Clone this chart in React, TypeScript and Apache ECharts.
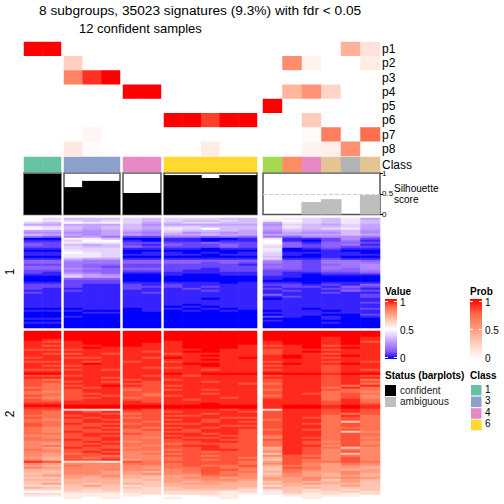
import React, { useEffect, useRef } from "react";
import * as echarts from "echarts";

const FONT = "Liberation Sans";
const groupSizes = [2, 3, 2, 5, 6];
const groupLefts = [24, 64, 123, 164, 263];
const groupRights = [61, 120, 161, 257, 380];
const probRows = ["p1", "p2", "p3", "p4", "p5", "p6", "p7", "p8"];

const p1 = [1, 1, 0, 0, 0, 0, 0, 0, 0, 0, 0, 0, 0, 0, 0, 0, 0.4, 0.15];
const p2 = [0, 0, 0.25, 0, 0, 0, 0, 0, 0, 0, 0, 0, 0, 0.58, 0.07, 0, 0, 0.1];
const p3 = [0, 0, 0.62, 0.88, 1, 0, 0, 0, 0, 0, 0, 0, 0, 0, 0, 0, 0, 0];
const p4 = [0, 0, 0, 0, 0, 1, 1, 0, 0, 0, 0, 0, 0, 0.38, 0.55, 0.22, 0, 0];
const p5 = [0, 0, 0, 0, 0, 0, 0, 0, 0, 0, 0, 0, 1, 0, 0, 0, 0, 0];
const p6 = [0, 0, 0, 0, 0, 0, 0, 1, 1, 0.85, 1, 1, 0, 0, 0.27, 0, 0, 0];
const p7 = [0, 0, 0, 0.05, 0, 0, 0, 0, 0, 0, 0, 0, 0, 0, 0.02, 0.65, 0, 0.72];
const p8 = [0, 0, 0.12, 0.02, 0, 0, 0, 0, 0, 0.1, 0, 0, 0, 0, 0.06, 0.08, 0.57, 0];
const probValues = [p1, p2, p3, p4, p5, p6, p7, p8];

const classIds = [1, 1, 3, 3, 3, 4, 4, 6, 6, 6, 6, 6, 2, 5, 4, 7, 8, 7];
const silhouette = [0.98, 0.98, 0.66, 0.81, 0.81, 0.52, 0.52, 0.95, 0.95, 0.88, 0.95, 0.95, 0, 0, 0.3, 0.37, 0, 0.47];
const confident = [1, 1, 1, 1, 1, 1, 1, 1, 1, 1, 1, 1, 0, 0, 0, 0, 0, 0];

const classColors: Record<number, string> = {
  1: "#66C2A5", 2: "#A6D854", 3: "#8DA0CB", 4: "#E78AC3",
  5: "#FC8D62", 6: "#FFD92F", 7: "#E5C494", 8: "#B3B3B3",
};
const legendClasses = [[1, "1"], [3, "3"], [4, "4"], [6, "6"]] as [number, string][];

// One row per line, one character per sample. Scale: 0..9,a..k = 0, 0.05, ... 1.
const cluster1 = [
  "a8 777 87 88877 a98796", "a9 878 87 87787 ba8797", "87 a9b 86 78877 698797", "66 666 75 66666 587686",
  "98 767 76 88777 697786", "a9 767 76 98a77 687896", "66 656 65 87776 576675", "55 556 54 75656 465575",
  "76 656 65 66766 666676", "43 564 22 44343 435554", "00 b97 00 11001 911252", "11 8aa 10 11011 a10241",
  "22 999 22 22322 a31332", "32 767 21 32232 932341", "22 877 32 22232 832322", "11 888 11 11011 901211",
  "00 988 00 00000 900100", "11 a98 01 10101 811110", "11 998 11 11011 810111", "00 998 00 00000 700100",
  "11 766 11 11111 811211", "33 544 33 33333 532443", "33 444 33 33232 432444", "22 433 22 22221 332345",
  "33 432 22 22222 432445", "33 543 33 22122 332435", "22 433 22 21122 222334", "21 543 11 11111 211223",
  "11 765 00 10011 210111", "00 866 00 00000 110000", "00 333 00 00000 100000", "00 222 00 00000 000000",
  "11 222 11 11101 110111", "22 211 21 21111 221213", "22 211 22 21211 122132", "21 111 21 12111 211221",
  "11 211 11 11211 121132", "21 111 12 11111 111211", "11 111 11 11111 311112", "11 111 11 11111 121112",
  "11 111 11 11011 011111", "11 111 11 11111 111111", "11 111 11 11111 111112", "11 111 11 10111 111111",
  "11 111 11 01011 111111", "00 011 01 10101 110112", "11 100 01 01010 011011", "00 011 00 00000 111111",
  "00 000 00 00000 011002", "00 100 00 00000 210101", "11 000 00 00000 000100", "00 000 00 00000 100000",
  "11 000 00 00000 000100", "00 000 00 00000 000000", "00 000 00 00000 000000",
];
const cluster2 = [
  "kk kkk kk kkkkk kkkkkk", "kk kkk kk kkkkk kkkkkk", "kk kkk kk kkkkk kkkkkk", "kk kkk kk kkkkk kkkjkj",
  "kj kkk kk kkkkk kkkjkj", "ji jkk kk jkkkk jkkjki", "jj jkk kj jkkkk jkkjkj", "ji jjk kj jkkkj ijkijj",
  "jj jkj jj jkkkj jjkjkj", "ii ijj jj jjkjj ijjijj", "jj jjj ji jkkjj ijkjjj", "ji iji jj ijjjj ijjijj",
  "jj jjj jj jjkjj jkjjkj", "ij iij ji kjjjk jkjijj", "jj jjj jj jjkjj jjjjjj", "ii jij ij ijjjj ijjiji",
  "jj jkj jj jkkjj jkjjkj", "ji ijj jj jjkjj ijjijj", "jj jjj ji ijjjj jjjijj", "ii iji jj jjijj ijjiji",
  "jj jjj jj jjjjj jjjijj", "kk jjj jj kjkkk kkkjkk", "ii ijj ji jijjj ijjiji", "jj jji jj jjjjj jjjijj",
  "ih jjj ij ijjjj ijjijh", "ii iji ji jjijj ijjiji", "ih jjj ii jjjji hjjijh", "ih ijk ji ijjjj ijjihj",
  "hh jij ii jjjjj ijjhjh", "ih ijj hi ijijj hjjihh", "hg ijj ii jjjjj ijjhhg", "hh iij ih jjijj ijihih",
  "ih iji ih ijjjj hjjhig", "hg iij hi jjjij ijjhig", "ih ijj ii jijjj jjjhjh", "ii jjj ji jjjjj jjjijh",
  "jj jjj jj jjkjj jjjiji", "kk kkk kk kkkkk jkkjkj", "jj kkk kk kkkkk jkkjkj", "ii ccb ji jjjij cjjiji",
  "ih jij ii ijjji ijjiji", "ih jji hi jjijj ijjihi", "hh ijj ii iijjj ijjhjh", "ih jij hi jjjii ijihih",
  "hg iji ii ijijj hjjhih", "hh ijj ih jjiji ijjhdh", "ih jii hi iijjj ijihih", "ih iij ii jjjii ijjhih",
  "hg iji ih ijijj ijjhhh", "hg iij hi jijji hjihih", "hg jii hh iijji ijjhdg", "hh ijj ih jjiji ijjhih",
  "gg iji hh ijjii hjjhih", "hg iij hg jiiji gjihig", "hh jij hh ijjii ijjhih", "gg iji gh iijji hjigig",
  "gf iij hh hiiii hjihig", "gh iji hg ijjii hjjgih", "gf jii gh iijii ejihdg", "hg iij hh hijji fjighg",
  "gg iji gg iihii gjigig", "gf hij gh hiiii djigdg", "gf iih gg iihii gihghg", "fe ihi gg hiiih eiigig",
  "ge iij fg hihii dihgig", "ji ccb ih iiiih fihhih", "gf ggg hh hiiih gigfhg", "fe hgg gg hihhi ehgfgf",
  "gf ggg gf hhihh dihffe", "ee ggg gg ghiig dhgfef", "ed ggf fe ghihh ehffgf", "de ggf fg ggihg dgfege",
  "ef ffg ee ffhhg egfefe", "dd fef ed fggfg ffgfgf", "ee eee de ffggf ffgdfe", "dd eee dd feffe dfeefd",
  "df ede ed effee eefeed", "cc dfd cd eeeee ceddfd", "ed ddd dc deeed ededdd", "cc dcd cc ddddc cdcdcd",
  "aa ccc cc cccbc 9dccdc", "cc bbb bc cccbb bcbcbc", "9b bbb ba aabba abbbba", "aa bab aa baaba aabaaa",
];

const SCALE = "0123456789abcdefghijk";
const decode = (rows: string[]) =>
  rows.map((r) => r.replace(/\s/g, "").split("").map((c) => SCALE.indexOf(c) / 20));

const valueColors = ["#0000FF", "#8658FF", "#B38BFF", "#DEC7FF", "#FFFFFF", "#FFCFBF", "#FF9E81", "#FF6847", "#FF0000"];
const probColors = ["#FFFFFF", "#FFCFBF", "#FF9E81", "#FF6847", "#FF0000"];

function buildOption() {
  const grids: any[] = [], xAxes: any[] = [], yAxes: any[] = [], series: any[] = [];
  const valueIdx: number[] = [], probIdx: number[] = [], classIdx: number[] = [];
  const h1 = decode(cluster1);
  const h2 = decode(cluster2);

  const addGrid = (g: number, top: number, height: number, yAxis: any, extra: any = {}) => {
    const idx = grids.length;
    grids.push({ left: groupLefts[g], width: groupRights[g] - groupLefts[g], top, height, ...extra });
    const cols = Array.from({ length: groupSizes[g] }, (_, i) => `s${g}_${i}`);
    xAxes.push({ type: "category", gridIndex: idx, data: cols, show: false });
    yAxes.push({ gridIndex: idx, ...yAxis });
    return idx;
  };

  const heat = (idx: number, data: any[], list: number[]) => {
    list.push(series.length);
    series.push({ type: "heatmap", xAxisIndex: idx, yAxisIndex: idx, data, progressive: 0, silent: true });
  };

  const catAxis = (data: string[], show = false, padding = [0, 0, 0, 0]) => ({
    type: "category", data, inverse: true, show,
    position: "right",
    axisLine: { show: false }, axisTick: { show: false },
    axisLabel: { fontFamily: FONT, fontSize: 12, color: "#000", margin: 2, interval: 0, padding },
  });

  let offset = 0;
  groupSizes.forEach((n, g) => {
    const cols = Array.from({ length: n }, (_, i) => offset + i);
    const last = g === groupSizes.length - 1;

    // probability annotation
    let idx = addGrid(g, 42, 114, catAxis(probRows, last, [2, 0, 0, 0]));
    const pd: any[] = [];
    probValues.forEach((row, r) => cols.forEach((c, i) => pd.push([i, r, row[c]])));
    heat(idx, pd, probIdx);

    // class annotation
    idx = addGrid(g, 157, 15, catAxis(["Class"], last, [0, 0, 3, 0]));
    heat(idx, cols.map((c, i) => [i, 0, classIds[c]]), classIdx);

    // silhouette bars
    idx = addGrid(g, 173, 41.5, {
      type: "value", min: 0, max: 1, interval: 0.5, show: last, position: "right",
      splitLine: { show: false }, axisLine: { show: false },
      axisTick: { show: true, length: 3, lineStyle: { color: "#000" } },
      axisLabel: { fontFamily: FONT, fontSize: 8, color: "#000", margin: 2 },
    }, { show: true, borderColor: "#555", borderWidth: 1.5, backgroundColor: "#fff" });
    series.push({
      type: "bar", xAxisIndex: idx, yAxisIndex: idx, barWidth: "106%", silent: true,
      data: cols.map((c) => ({
        value: silhouette[c],
        itemStyle: { color: confident[c] ? "#000" : "#BEBEBE" },
      })),
      ...(last ? {
        markLine: {
          silent: true, symbol: "none", label: { show: false },
          lineStyle: { type: "dashed", color: "#CCCCCC", width: 1 },
          data: [{ yAxis: 0.5 }],
        },
      } : {}),
    });

    // heatmap 1
    idx = addGrid(g, 218, 110, catAxis(h1.map((_, i) => `a${i}`)));
    const d1: any[] = [];
    h1.forEach((row, r) => cols.forEach((c, i) => d1.push([i, r, row[c]])));
    heat(idx, d1, valueIdx);

    // heatmap 2
    idx = addGrid(g, 331, 168, catAxis(h2.map((_, i) => `b${i}`)));
    const d2: any[] = [];
    h2.forEach((row, r) => cols.forEach((c, i) => d2.push([i, r, row[c]])));
    heat(idx, d2, valueIdx);

    offset += n;
  });

  const txt = (text: string, x: number, y: number, opts: any = {}) => ({
    type: "text", x, y,
    style: { text, fontFamily: FONT, fontSize: 10, fill: "#000", verticalAlign: "middle", ...opts },
  });
  const rect = (x: number, y: number, w: number, h: number, fill: any) => ({
    type: "rect", shape: { x, y, width: w, height: h }, style: { fill },
  });
  const tick = (x1: number, x2: number, y: number) => ({
    type: "line", shape: { x1, y1: y, x2, y2: y }, style: { stroke: "#fff", lineWidth: 1 },
  });

  const valueGrad = new echarts.graphic.LinearGradient(0, 1, 0, 0,
    valueColors.map((color, i) => ({ offset: i / (valueColors.length - 1), color })));
  const probGrad = new echarts.graphic.LinearGradient(0, 1, 0, 0,
    probColors.map((color, i) => ({ offset: i / (probColors.length - 1), color })));

  const graphic: any[] = [
    txt("Silhouette", 394, 188),
    txt("score", 394, 199),
    { type: "text", x: 10, y: 272, rotation: Math.PI / 2, style: { text: "1", fontFamily: FONT, fontSize: 12, fill: "#000", align: "center", verticalAlign: "middle" } },
    { type: "text", x: 10, y: 414, rotation: Math.PI / 2, style: { text: "2", fontFamily: FONT, fontSize: 12, fill: "#000", align: "center", verticalAlign: "middle" } },
    txt("Value", 385, 291, { fontWeight: "bold" }),
    rect(385, 299, 12, 60, valueGrad),
    tick(385, 388, 301.5), tick(394, 397, 301.5),
    tick(385, 388, 329.5), tick(394, 397, 329.5),
    tick(385, 388, 357.5), tick(394, 397, 357.5),
    txt("1", 400, 302), txt("0.5", 400, 330), txt("0", 400, 358),
    txt("Prob", 470, 291, { fontWeight: "bold" }),
    rect(470, 299, 12, 60, probGrad),
    tick(470, 473, 301.5), tick(479, 482, 301.5),
    tick(470, 473, 329.5), tick(479, 482, 329.5),
    tick(470, 473, 357.5), tick(479, 482, 357.5),
    txt("1", 485, 302), txt("0.5", 485, 330), txt("0", 485, 358),
    txt("Status (barplots)", 385, 375, { fontWeight: "bold" }),
    rect(385, 385, 11, 11, "#000"),
    rect(385, 397, 11, 10, "#BEBEBE"),
    txt("confident", 400, 390, { fill: "#222" }),
    txt("ambiguous", 400, 401, { fill: "#222" }),
    txt("Class", 470, 375, { fontWeight: "bold" }),
  ];
  legendClasses.forEach(([id, label], i) => {
    graphic.push(rect(471, 385 + i * 11.6, 10.5, 10.5, classColors[id]));
    graphic.push(txt(label, 485, 389.5 + i * 11.3));
  });

  return {
    animation: false,
    backgroundColor: "#fff",
    title: [
      { text: "8 subgroups, 35023 signatures (9.3%) with fdr < 0.05", left: 39, top: 3, padding: 0, textStyle: { fontFamily: FONT, fontSize: 13.7, fontWeight: "normal", color: "#000" } },
      { text: "12 confident samples", left: 79, top: 22, padding: 0, textStyle: { fontFamily: FONT, fontSize: 13, fontWeight: "normal", color: "#000" } },
    ],
    grid: grids, xAxis: xAxes, yAxis: yAxes, series, graphic,
    visualMap: [
      { type: "continuous", show: false, min: 0, max: 1, dimension: 2, seriesIndex: valueIdx, inRange: { color: valueColors } },
      { type: "continuous", show: false, min: 0, max: 1, dimension: 2, seriesIndex: probIdx, inRange: { color: probColors } },
      {
        type: "piecewise", show: false, dimension: 2, seriesIndex: classIdx,
        pieces: Object.keys(classColors).map((k) => ({ value: Number(k), color: classColors[Number(k)] })),
      },
    ],
  };
}

export default function App() {
  const ref = useRef<HTMLDivElement>(null);
  useEffect(() => {
    const chart = echarts.init(ref.current!, undefined, { renderer: "svg" });
    chart.setOption(buildOption() as any);
    return () => chart.dispose();
  }, []);
  return <div ref={ref} style={{ position: "absolute", left: 0, top: 0, width: 504, height: 504 }} />;
}
